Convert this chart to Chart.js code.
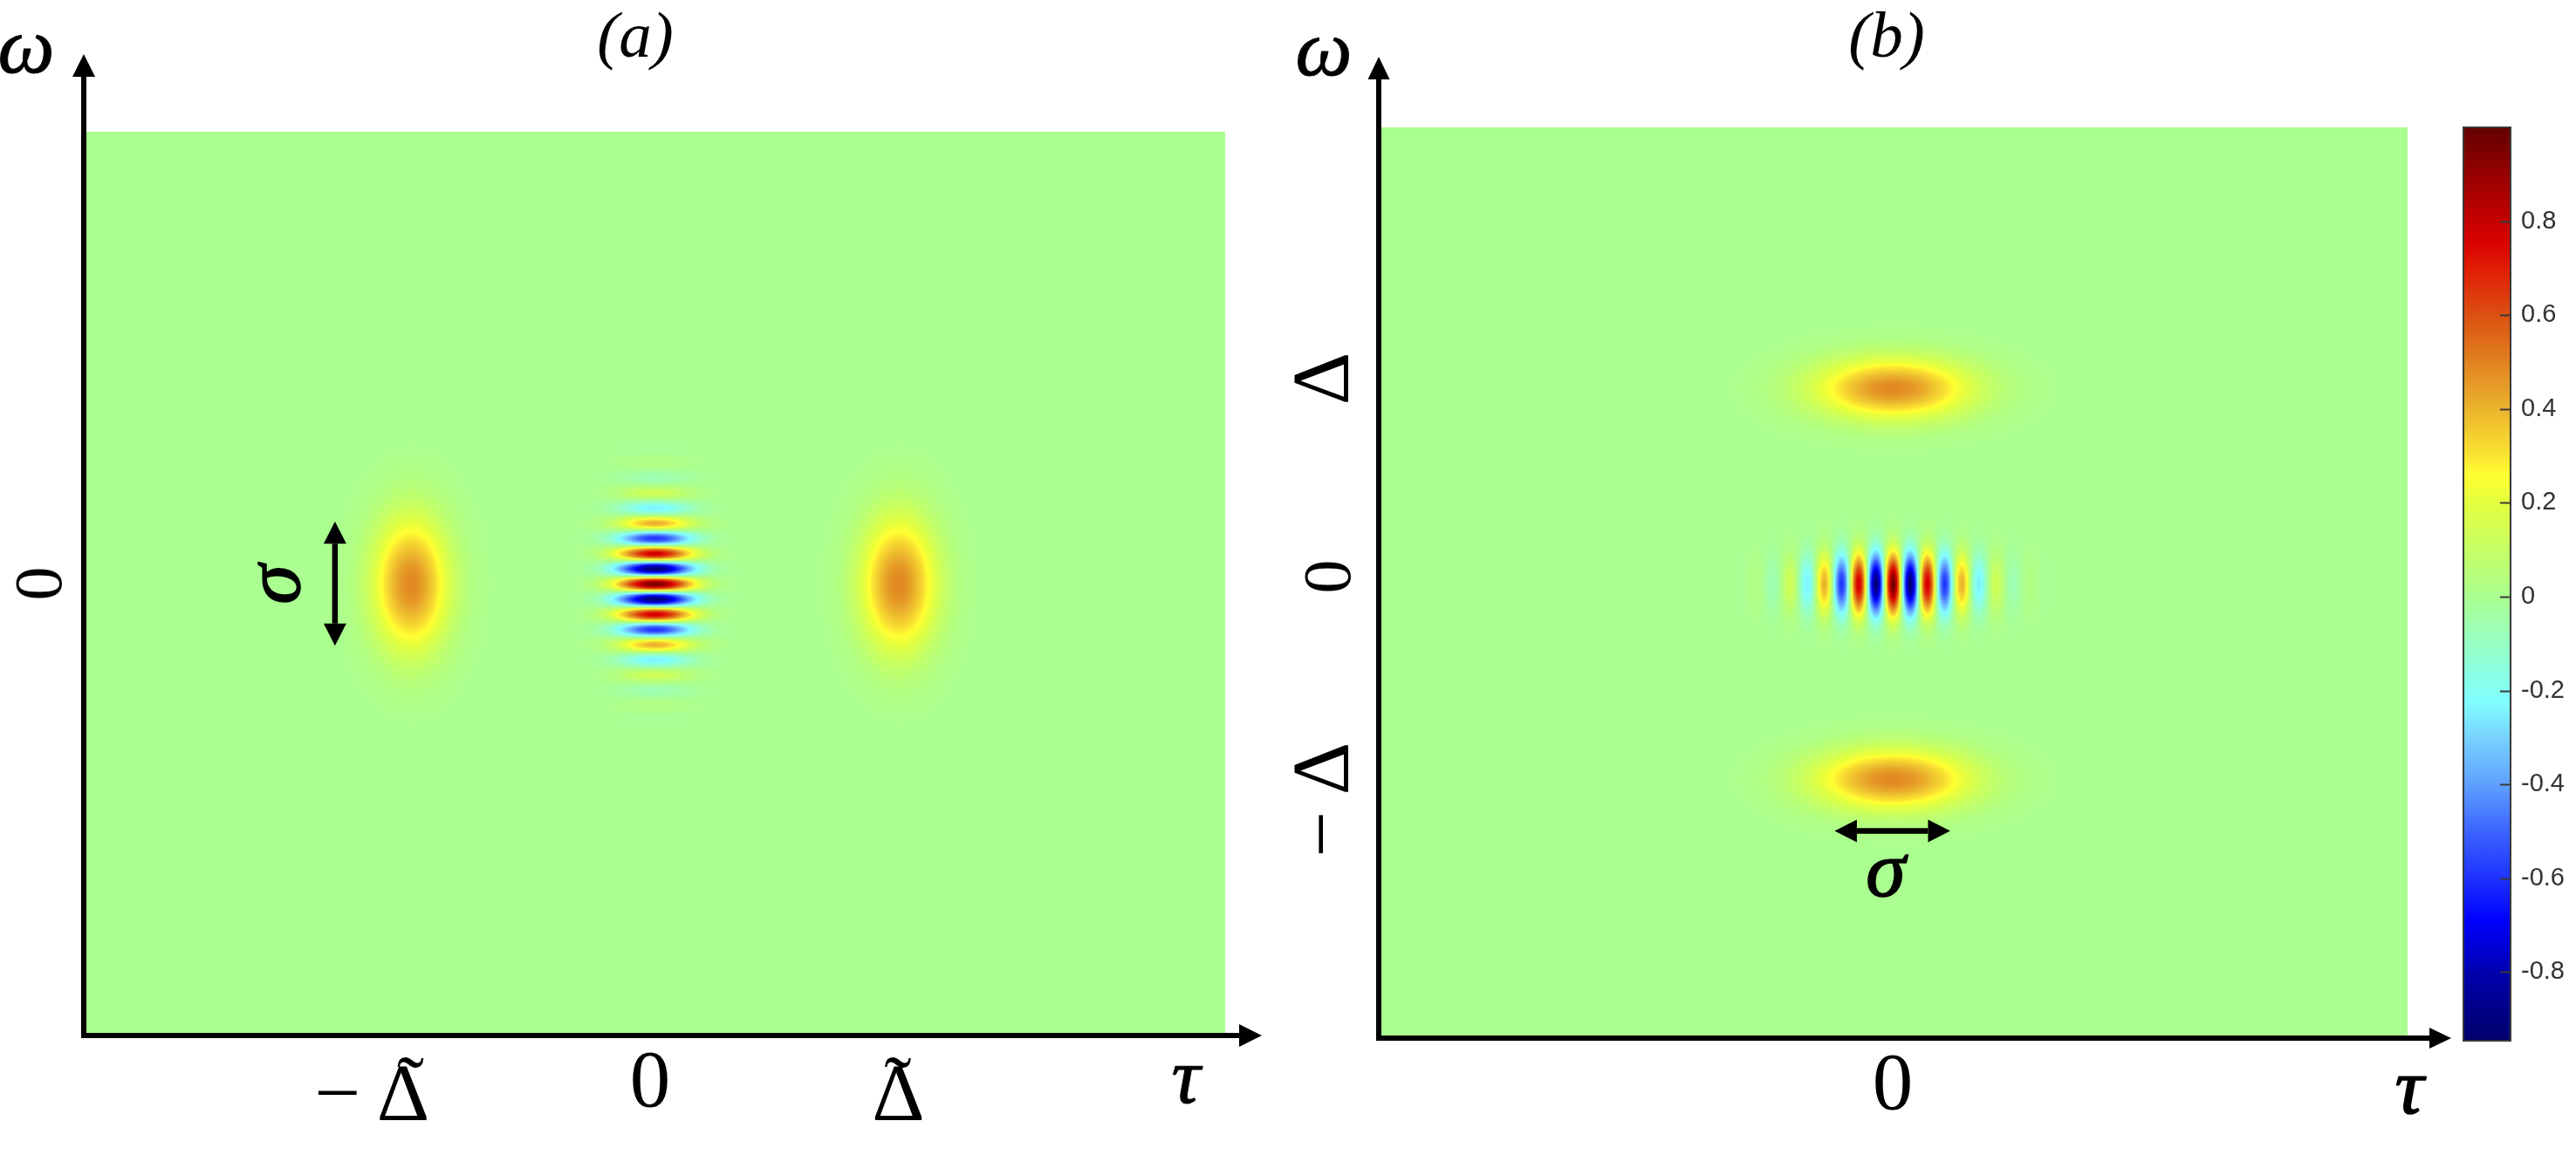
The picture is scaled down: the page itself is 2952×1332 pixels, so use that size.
<!DOCTYPE html>
<html>
<head>
<meta charset="utf-8">
<script src="https://cdn.jsdelivr.net/npm/chart.js@4"></script>
<style>
html,body{margin:0;padding:0;background:#fff;width:2952px;height:1332px;overflow:hidden}
canvas{position:absolute;top:0}
#ca{left:0}#cb{left:1456px}#cc{left:2800px}
</style>
</head>
<body>
<canvas id="ca" width="1456" height="1332"></canvas>
<canvas id="cb" width="1412" height="1332"></canvas>
<canvas id="cc" width="152" height="1332"></canvas>
<script>
// ---- values ----
// signal along the fringe direction through the centre of the interference term, outward from 0
const fringeProfile=[1.00,.705,0,-.685,-.946,-.649,0,.597,.802,.535,0,-.466,-.609,-.395,0,.326,.414,.261,0,-.204,-.253,-.155,0,.114,.137,.082,0,-.057,-.067,-.039,0,.026,.029,.017,0,-.010,-.012];
// fall-off of a lobe, outward from its centre
const lobeProfile=[1,.969,.882,.755,.607,.458,.325,.216,.135,.080,.044,.023,.011,.005,.002];
const sideLobePeak=.49, fringePeak=.97;
const lobeTauA=[-1,1], lobeOmegaB=[1,-1];
// sample spacing in axis units
const lobeStepA={tau:.0268,omega:.0592}, fringeStepA={tau:.0260,omega:.01964};
const lobeStepB={tau:.0555,omega:.0268}, fringeStepB={tau:.0178,omega:.0268};
const tauRangeA=[-2.34,2.34], omegaRangeA=[-2.3125,2.3125];
const tauRangeB=[-2.107,2.111], omegaRangeB=[-2.326,2.335];
const tauTicksA=[-1.159,-.018,1], tauLabelsA=['\u2212\u2009\u0394','0','\u0394'];
const tildeTauA=[-1.0,.998];
const omegaTicksA=[0], omegaLabelsA=['0'];
const tauTicksB=[0], tauLabelsB=['0'];
const omegaTicksB=[1.049,.036,-1.107], omegaLabelsB=['\u0394',['','0'],'\u2212\u2009\u0394'];
const sigmaArrowA={tau:[-1.31,-1.31],omega:[.318,-.318]};
const sigmaArrowB={tau:[-.238,.236],omega:[-1.266,-1.266]};
const cbarRange=[-.946,1];
const cbarTicks=[-.8,-.6,-.4,-.2,0,.2,.4,.6,.8];
const cbarLabels=['-0.8','-0.6','-0.4','-0.2','0','0.2','0.4','0.6','0.8'];
const cmapValues=[-.946,-.8,-.69,-.6,-.5,-.4,-.3,-.223,-.1,0,.1,.2,.258,.3,.4,.5,.6,.7,.76,.88,1];
const cmapColors=[[0,0,105],[0,0,175],[0,0,255],[30,50,255],[60,100,255],[95,160,255],[120,210,255],[128,255,255],[150,255,195],[170,255,144],[197,255,100],[228,255,62],[255,255,50],[250,228,50],[235,180,45],[225,130,32],[220,80,18],[225,28,5],[215,0,0],[160,0,0],[100,0,0]];

// ---- colour map ----
function rgbOf(v){
  if(v<=cmapValues[0])return cmapColors[0];
  for(let i=1;i<cmapValues.length;i++){
    if(v<=cmapValues[i]){
      const f=(v-cmapValues[i-1])/(cmapValues[i]-cmapValues[i-1]);
      const a=cmapColors[i-1],b=cmapColors[i];
      return [a[0]+(b[0]-a[0])*f,a[1]+(b[1]-a[1])*f,a[2]+(b[2]-a[2])*f];
    }
  }
  return cmapColors[cmapColors.length-1];
}
const css=c=>`rgb(${c[0]|0},${c[1]|0},${c[2]|0})`;

// ---- tables ----
const mirror=p=>p.slice(1).reverse().concat(p);
function table(tau0,omega0,stepTau,stepOmega,colProfile,rowProfile,peak){
  const cols=mirror(colProfile),rows=mirror(rowProfile),nc=(cols.length-1)/2,nr=(rows.length-1)/2,data=[];
  rows.forEach((rv,r)=>cols.forEach((cv,c)=>data.push({x:tau0+(c-nc)*stepTau,y:omega0+(r-nr)*stepOmega,v:rv*cv*peak})));
  return {type:'scatter',data,nCols:cols.length,nRows:rows.length,pointRadius:0,showLine:false,isHeat:true};
}
const datasetsA=[
  table(lobeTauA[0],0,lobeStepA.tau,lobeStepA.omega,lobeProfile,lobeProfile,sideLobePeak),
  table(0,0,fringeStepA.tau,fringeStepA.omega,lobeProfile,fringeProfile,fringePeak),
  table(lobeTauA[1],0,lobeStepA.tau,lobeStepA.omega,lobeProfile,lobeProfile,sideLobePeak)
];
const datasetsB=[
  table(0,lobeOmegaB[0],lobeStepB.tau,lobeStepB.omega,lobeProfile,lobeProfile,sideLobePeak),
  table(0,0,fringeStepB.tau,fringeStepB.omega,fringeProfile,lobeProfile,fringePeak),
  table(0,lobeOmegaB[1],lobeStepB.tau,lobeStepB.omega,lobeProfile,lobeProfile,sideLobePeak)
];

// ---- smooth shading of the sampled cells (value space, like shading interp) ----
function cr(p0,p1,p2,p3,t){return .5*((2*p1)+(-p0+p2)*t+(2*p0-5*p1+4*p2-p3)*t*t+(-p0+3*p1-3*p2+p3)*t*t*t);}
function sample(arr,f){
  const n=arr.length,i=Math.min(Math.floor(f),n-2),t=f-i;
  return cr(arr[Math.max(i-1,0)],arr[i],arr[i+1],arr[Math.min(i+2,n-1)],t);
}
function drawHeat(chart,ds,meta,ctx){
  const nc=ds.nCols,nr=ds.nRows,pts=meta.data;
  const xa=pts[0].x,xb=pts[nc-1].x,ya=pts[0].y,yb=pts[(nr-1)*nc].y;
  const L=Math.ceil(Math.min(xa,xb)),R=Math.floor(Math.max(xa,xb)),T=Math.ceil(Math.min(ya,yb)),B=Math.floor(Math.max(ya,yb));
  const W=R-L+1,H=B-T+1;
  const off=document.createElement('canvas');off.width=W;off.height=H;
  const oc=off.getContext('2d'),img=oc.createImageData(W,H);
  const rowsAtPx=[];
  for(let r=0;r<nr;r++){
    const row=[];for(let c=0;c<nc;c++)row.push(ds.data[r*nc+c].v);
    const out=new Float64Array(W);
    for(let px=0;px<W;px++)out[px]=sample(row,(L+px-xa)/(xb-xa)*(nc-1));
    rowsAtPx.push(out);
  }
  const col=new Array(nr);
  for(let px=0;px<W;px++){
    for(let r=0;r<nr;r++)col[r]=rowsAtPx[r][px];
    for(let py=0;py<H;py++){
      const c=rgbOf(sample(col,(T+py-ya)/(yb-ya)*(nr-1)));
      const k=(py*W+px)*4;
      img.data[k]=c[0];img.data[k+1]=c[1];img.data[k+2]=c[2];img.data[k+3]=255;
    }
  }
  oc.putImageData(img,0,0);
  ctx.drawImage(off,L,T);
}
function tri(ctx,tx,ty,bx,by,half){
  const dx=tx-bx,dy=ty-by,l=Math.hypot(dx,dy),nx=-dy/l*half,ny=dx/l*half;
  ctx.beginPath();ctx.moveTo(tx,ty);ctx.lineTo(bx+nx,by+ny);ctx.lineTo(bx-nx,by-ny);ctx.closePath();ctx.fill();
}
const heatPlugin={
  id:'heat',
  beforeDraw(chart){
    const a=chart.chartArea,ctx=chart.ctx;
    ctx.save();ctx.fillStyle=css(rgbOf(0));ctx.fillRect(a.left,a.top,a.right-a.left,a.bottom-a.top);
    chart.data.datasets.forEach((ds,i)=>{if(ds.isHeat)drawHeat(chart,ds,chart.getDatasetMeta(i),ctx);});
    ctx.restore();
  },
  afterDraw(chart,_,o){
    const a=chart.chartArea,ctx=chart.ctx,xs=chart.scales.x,ys=chart.scales.y;
    ctx.save();ctx.fillStyle='#000';ctx.strokeStyle='#000';
    const ox=o.originX;
    // axis extensions and heads
    ctx.lineWidth=6;
    ctx.beginPath();ctx.moveTo(a.left-3,a.bottom);ctx.lineTo(o.tauHead.base-ox,a.bottom);ctx.stroke();
    tri(ctx,o.tauHead.tip-ox,a.bottom,o.tauHead.base-ox,a.bottom,o.tauHead.half);
    ctx.beginPath();ctx.moveTo(a.left,a.bottom+3);ctx.lineTo(a.left,o.omegaHead.base);ctx.stroke();
    tri(ctx,a.left,o.omegaHead.tip,a.left,o.omegaHead.base,o.omegaHead.half);
    // sigma double arrow
    const s=o.sigma,x1=xs.getPixelForValue(s.tau[0]),x2=xs.getPixelForValue(s.tau[1]),y1=ys.getPixelForValue(s.omega[0]),y2=ys.getPixelForValue(s.omega[1]);
    const l=Math.hypot(x2-x1,y2-y1),ux=(x2-x1)/l,uy=(y2-y1)/l,h=25.5;
    ctx.lineWidth=6.5;ctx.beginPath();ctx.moveTo(x1+ux*h,y1+uy*h);ctx.lineTo(x2-ux*h,y2-uy*h);ctx.stroke();
    tri(ctx,x1,y1,x1+ux*h,y1+uy*h,13);tri(ctx,x2,y2,x2-ux*h,y2-uy*h,13);
    // tildes over the tick labels
    ctx.textAlign='center';ctx.textBaseline='alphabetic';
    (o.tildes||[]).forEach(v=>{ctx.font=`94px ${SERIF}`;ctx.fillText('\u02DC',xs.getPixelForValue(v),1275);});
    // symbols
    o.texts.forEach(t=>{
      ctx.save();ctx.font=t.font;ctx.translate(t.x-ox,t.y);if(t.rot)ctx.rotate(t.rot);
      ctx.fillText(t.s,0,0);
      if(t.w){ctx.lineWidth=t.w;ctx.lineJoin='round';ctx.strokeText(t.s,0,0);}
      ctx.restore();
    });
    ctx.restore();
  }
};
const SERIF='"Liberation Serif"';
function fixedTicks(vals){return s=>{s.ticks=vals.map(v=>({value:v}));};}
function panel(id,datasets,opt){
  return new Chart(document.getElementById(id),{
    type:'scatter',
    data:{datasets},
    plugins:[heatPlugin],
    options:{
      responsive:false,animation:false,events:[],devicePixelRatio:1,
      layout:{padding:0},
      plugins:{
        legend:{display:false},tooltip:{enabled:false},
        title:{display:true,text:opt.title,color:'#000',font:{family:SERIF,size:75,style:'italic',weight:'normal',lineHeight:1.2},padding:{top:0,bottom:opt.titleGap}},
        heat:opt.decor
      },
      scales:{
        x:{type:'linear',min:opt.tauRange[0],max:opt.tauRange[1],
          grid:{display:false,drawTicks:false},border:{display:true,width:6,color:'#000'},
          afterBuildTicks:fixedTicks(opt.tauTicks),afterFit:s=>{s.height=opt.bottomH;},
          ticks:{autoSkip:false,maxRotation:0,minRotation:0,padding:1,color:'#000',
            callback:(v,i)=>opt.tauLabels[i],
            font:c=>({family:SERIF,size:c.tick&&c.tick.label==='0'?93:94,lineHeight:c.tick&&c.tick.label==='0'?1.2:1.51})}},
        y:{type:'linear',min:opt.omegaRange[0],max:opt.omegaRange[1],
          grid:{display:false,drawTicks:false},border:{display:true,width:6,color:'#000'},
          afterBuildTicks:fixedTicks(opt.omegaTicks),afterFit:s=>{s.width=opt.leftW;},
          ticks:{autoSkip:false,minRotation:90,maxRotation:90,crossAlign:'center',padding:opt.yPad,color:'#000',
            callback:(v,i)=>opt.omegaLabels[i],
            font:c=>{const z=c.tick&&(Array.isArray(c.tick.label)||c.tick.label==='0');return {family:SERIF,size:z?78:94,lineHeight:z?'14px':1.2};}}},
        gutter:{type:'linear',axis:'y',position:'right',grid:{display:false},border:{display:false},ticks:{display:false},afterFit:s=>{s.width=opt.gutterW;}}
      }
    }
  });
}
const italic=n=>`italic ${n}px ${SERIF}`;
panel('ca',datasetsA,{
  title:'(a)',titleGap:61,gutterW:52,bottomH:145,leftW:96,yPad:27,
  tauRange:tauRangeA,omegaRange:omegaRangeA,tauTicks:tauTicksA,tauLabels:tauLabelsA,omegaTicks:omegaTicksA,omegaLabels:omegaLabelsA,
  decor:{originX:0,tauHead:{tip:1446,base:1420,half:13},omegaHead:{tip:62,base:88,half:13},sigma:sigmaArrowA,tildes:tildeTauA,
    texts:[{s:'\u03C9',font:italic(92),x:30,y:83,w:1},{s:'\u03C4',font:italic(92),x:1359,y:1264,w:1},{s:'\u03C3',font:italic(92),x:343,y:670,rot:-Math.PI/2,w:1.6}]}
});
panel('cb',datasetsB,{
  title:'(b)',titleGap:56,gutterW:109,bottomH:142,leftW:124,yPad:-6,
  tauRange:tauRangeB,omegaRange:omegaRangeB,tauTicks:tauTicksB,tauLabels:tauLabelsB,omegaTicks:omegaTicksB,omegaLabels:omegaLabelsB,
  decor:{originX:1456,tauHead:{tip:2809,base:2784,half:12},omegaHead:{tip:65,base:91,half:12.5},sigma:sigmaArrowB,
    texts:[{s:'\u03C9',font:italic(92),x:1517,y:86,w:1},{s:'\u03C4',font:italic(92),x:2761,y:1276,w:1.6},{s:'\u03C3',font:italic(92),x:2161,y:1027,w:1.6}]}
});

// ---- colour bar ----
const cbarFrame={
  id:'cbarFrame',
  afterDraw(chart){
    const a=chart.chartArea,ctx=chart.ctx,y=chart.scales.y;
    ctx.save();ctx.strokeStyle='#3a3a3a';ctx.lineWidth=2;
    y.ticks.forEach(t=>{const p=Math.round(y.getPixelForValue(t.value))+.5;ctx.beginPath();ctx.moveTo(a.right-12,p);ctx.lineTo(a.right,p);ctx.stroke();});
    ctx.strokeRect(a.left,a.top,a.right-a.left,a.bottom-a.top);
    ctx.restore();
  }
};
new Chart(document.getElementById('cc'),{
  type:'bar',
  data:{labels:[''],datasets:[{data:[cbarRange],barPercentage:1,categoryPercentage:1,borderWidth:0,
    backgroundColor:c=>{
      const a=c.chart.chartArea;if(!a)return css(rgbOf(0));
      const y=c.chart.scales.y,g=c.chart.ctx.createLinearGradient(0,a.bottom,0,a.top),span=a.bottom-a.top;
      cmapValues.forEach((v,i)=>g.addColorStop(Math.min(1,Math.max(0,(a.bottom-y.getPixelForValue(v))/span)),css(cmapColors[i])));
      return g;
    }}]},
  plugins:[cbarFrame],
  options:{
    responsive:false,animation:false,events:[],devicePixelRatio:1,
    layout:{padding:{left:23,top:146,bottom:139,right:0}},
    plugins:{legend:{display:false},tooltip:{enabled:false},title:{display:false}},
    scales:{
      x:{display:false,type:'category',offset:true,afterFit:s=>{s.height=0;}},
      y:{type:'linear',position:'right',min:cbarRange[0],max:cbarRange[1],
        grid:{display:false,drawTicks:false},border:{display:false},
        afterBuildTicks:fixedTicks(cbarTicks),afterFit:s=>{s.width=75;},
        ticks:{autoSkip:false,padding:12,color:'#333',callback:(v,i)=>cbarLabels[i],font:{family:'"Liberation Sans"',size:29}}}
    }
  }
});
</script>
</body>
</html>
